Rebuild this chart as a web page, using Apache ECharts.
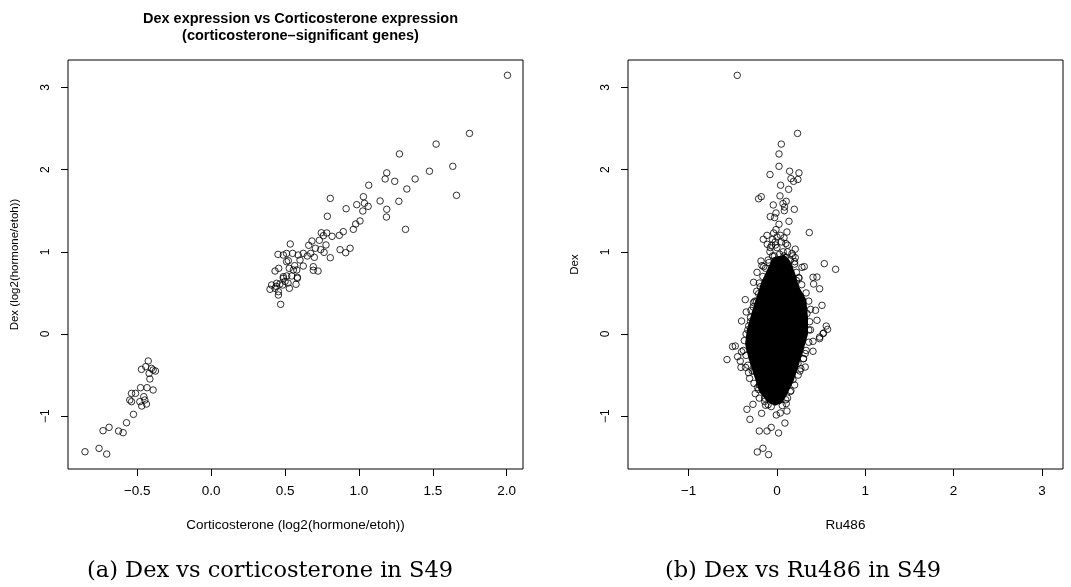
<!DOCTYPE html>
<html>
<head>
<meta charset="utf-8">
<script src="https://cdn.jsdelivr.net/npm/echarts@6/dist/echarts.min.js"></script>
<style>
html,body{margin:0;padding:0;background:#fff;}
#chart{width:1071px;height:587px;}
</style>
</head>
<body>
<div id="chart"></div>
<script>
// ---- Panel (a): Dex vs corticosterone (corticosterone-significant genes) ----
const corticoX = [
  2.005,1.748,1.522,1.274,1.635,1.477,1.188,1.177,1.242,1.380,1.066,1.324,1.660,0.806,1.030,
  1.143,1.270,1.037,0.985,1.062,0.913,1.026,1.188,0.786,1.186,1.007,0.978,0.962,1.315,0.894,
  0.867,0.818,0.782,0.745,0.759,0.682,0.732,0.777,0.535,0.660,0.705,0.741,0.872,0.940,0.910,
  0.764,0.673,0.623,0.551,0.488,0.452,0.589,0.650,0.698,0.806,0.522,0.601,0.623,0.565,0.691,
  0.528,0.457,0.432,0.556,0.691,0.723,0.583,0.488,0.545,0.510,0.510,0.398,0.409,0.432,0.455,
  0.470,0.455,0.443,0.465,0.484,0.488,0.529,0.511,0.574,0.583,0.579,0.440,0.500,0.520,
  -0.854,-0.759,-0.707,-0.732,-0.691,-0.627,-0.596,-0.573,-0.526,-0.551,-0.539,-0.539,-0.512,
  -0.478,-0.483,-0.470,-0.456,-0.449,-0.438,-0.434,-0.393,-0.472,-0.443,-0.426,-0.420,-0.415,
  -0.404,-0.393,-0.377
];
const dexA = [
  3.147,2.440,2.310,2.190,2.040,1.980,1.960,1.886,1.857,1.886,1.810,1.764,1.687,1.650,1.670,
  1.618,1.614,1.590,1.573,1.553,1.524,1.496,1.517,1.432,1.423,1.375,1.338,1.273,1.273,1.245,
  1.200,1.188,1.229,1.232,1.196,1.131,1.140,1.083,1.095,1.079,1.043,1.026,1.026,1.043,0.989,
  0.993,0.981,0.981,0.981,0.961,0.969,0.961,0.949,0.933,0.928,0.892,0.900,0.827,0.831,0.819,
  0.799,0.799,0.766,0.779,0.775,0.766,0.690,0.697,0.706,0.980,0.880,0.544,0.596,0.556,0.474,
  0.361,0.515,0.617,0.608,0.596,0.678,0.556,0.706,0.605,0.678,0.779,0.580,0.640,0.620,
  -1.432,-1.391,-1.460,-1.176,-1.135,-1.180,-1.200,-1.079,-0.977,-0.803,-0.823,-0.722,-0.722,
  -0.653,-0.823,-0.876,-0.762,-0.803,-0.852,-0.653,-0.681,-0.430,-0.397,-0.328,-0.479,-0.547,
  -0.418,-0.438,-0.450
];

// ---- Panel (b): Dex vs Ru486 (all genes) ----
// individually visible points around the dense cloud
const ru486X = [
  -0.450,0.233,0.049,0.023,0.023,-0.079,0.143,0.249,0.158,0.188,0.237,0.041,0.132,-0.208,-0.178,
  0.034,-0.042,0.068,0.105,0.086,0.083,0.196,-0.011,-0.076,-0.027,0.136,0.023,-0.011,0.113,0.366,
  -0.113,-0.038,-0.155,-0.110,-0.076,0.207,-0.016,0.536,0.664,0.283,0.309,-0.181,-0.170,-0.226,
  -0.265,0.207,0.408,0.453,0.245,0.415,0.483,-0.359,-0.265,-0.348,-0.294,0.510,0.437,-0.401,
  0.558,0.453,0.528,0.573,0.483,0.408,-0.503,-0.472,-0.189,-0.208,
  -0.566,-0.401,-0.446,-0.416,-0.408,-0.356,-0.322,-0.310,-0.246,-0.208,-0.340,-0.272,-0.306,
  -0.174,-0.129,-0.065,-0.008,0.037,0.113,0.105,0.090,-0.200,-0.113,-0.065,0.018,-0.223,-0.159,
  -0.095,0.158,0.181,0.320,0.238,0.408,0.320,0.483,0.521,
  -0.050,0.000,0.050,0.100,0.120,-0.080,0.000,0.080,-0.100,0.150,0.050,-0.030,0.180,-0.150,0.200,
  -0.230,-0.300,-0.330,0.340,0.360,0.300,-0.260,-0.200,0.220,0.260,-0.140,0.120,
  -0.130,-0.160,-0.200,-0.230,-0.250,-0.270,-0.300,-0.320,-0.350,-0.370,-0.380,-0.350,-0.330,
  -0.280,-0.260,-0.220,-0.200,-0.140,-0.100,
  0.060,0.100,0.150,0.200,0.240,0.270,0.300,0.330,0.360,0.380,0.370,0.380,0.360,0.330,0.280,
  0.250,0.220,0.200,0.170,
  0.000,0.030,0.070,-0.020,0.040,0.080,0.120,-0.060,0.100,-0.050,0.020,-0.090,0.140
];
const dexB = [
  3.146,2.440,2.310,2.190,2.040,1.940,1.980,1.960,1.890,1.857,1.880,1.810,1.760,1.645,1.670,
  1.680,1.570,1.587,1.614,1.545,1.500,1.517,1.472,1.428,1.416,1.371,1.335,1.270,1.241,1.234,
  1.200,1.229,1.152,1.091,1.051,1.032,1.083,0.856,0.787,0.811,0.820,0.888,0.832,0.750,
  0.629,0.929,0.690,0.693,0.686,0.608,0.550,0.418,0.382,0.268,0.288,0.349,0.288,0.158,
  0.097,0.167,0.012,0.057,-0.037,-0.089,-0.153,-0.146,0.575,0.490,
  -0.311,-0.215,-0.276,-0.329,-0.406,-0.406,-0.471,-0.540,-0.725,-0.677,-0.916,-0.855,-1.038,
  -0.965,-0.867,-0.883,-0.985,-0.961,-0.937,-0.847,-1.083,-1.180,-1.180,-1.136,-1.204,-1.435,-1.390,
  -1.467,-0.690,-0.555,-0.402,-0.360,-0.210,-0.238,-0.056,0.005,
  1.150,1.180,1.120,1.100,1.000,1.000,1.050,0.950,0.900,0.900,0.880,0.950,0.950,0.820,0.850,
  0.400,0.150,0.050,0.250,0.050,-0.300,-0.450,-0.620,0.650,-0.450,-0.780,-0.780,
  0.800,0.700,0.620,0.520,0.400,0.330,0.200,0.100,0.000,-0.080,-0.200,-0.260,-0.380,
  -0.450,-0.600,-0.650,-0.780,-0.820,-0.860,
  -0.870,-0.800,-0.700,-0.620,-0.500,-0.420,-0.300,-0.200,-0.100,0.050,0.150,0.300,0.400,0.500,0.600,
  0.680,0.750,0.880,0.980,
  0.900,0.970,1.000,1.120,1.200,1.170,1.080,1.080,0.930,0.950,0.860,0.870,0.800
];
// outline of the solid, fully overplotted core of the cloud
const coreX = [-0.040,-0.100,-0.170,-0.210,-0.270,-0.330,-0.350,-0.310,-0.250,-0.190,-0.100,-0.020,
               0.050,0.100,0.180,0.240,0.300,0.340,0.340,0.320,0.240,0.190,0.140,0.080];
const coreY = [0.920,0.780,0.620,0.480,0.280,0.050,-0.120,-0.300,-0.500,-0.700,-0.820,-0.860,
               -0.830,-0.740,-0.560,-0.360,-0.150,0.000,0.200,0.420,0.570,0.750,0.880,0.950];

const xTicksA = [-0.5, 0, 0.5, 1, 1.5, 2];
const xTicksB = [-1, 0, 1, 2, 3];
const yTicks = [-1, 0, 1, 2, 3];

const zip = (a, b) => a.map((v, i) => [v, b[i]]);
const minus = s => s.replace('-', '\u2212');

const FONT = '"Liberation Sans", Arial, Helvetica, sans-serif';

function xAxisDef(grid, min, max, ticks, fmt, name) {
  return {
    gridIndex: grid, type:'value', min:min, max:max,
    axisLine:{show:false, onZero:false},
    splitLine:{show:false},
    axisTick:{show:true, inside:false, length:7, customValues:ticks, lineStyle:{color:'#000', width:1}},
    axisLabel:{customValues:ticks, margin:15, formatter:fmt, showMinLabel:true, showMaxLabel:true,
               color:'#000', fontFamily:FONT, fontSize:13.5},
    name:name, nameLocation:'middle', nameGap:49,
    nameTextStyle:{color:'#000', fontFamily:FONT, fontSize:13.5}
  };
}
function yAxisDef(grid, name, gap) {
  return {
    gridIndex: grid, type:'value', min:-1.642, max:3.333,
    axisLine:{show:false, onZero:false},
    splitLine:{show:false},
    axisTick:{show:true, inside:false, length:7, customValues:yTicks, lineStyle:{color:'#000', width:1}},
    axisLabel:{customValues:yTicks, margin:16, rotate:90, formatter:v => minus(String(v)),
               color:'#000', fontFamily:FONT, fontSize:12},
    name:name, nameLocation:'middle', nameGap:gap, nameRotate:90,
    nameTextStyle:{color:'#000', fontFamily:FONT, fontSize:11.5}
  };
}

const circle = {color:'rgba(0,0,0,0)', borderColor:'#000', borderWidth:1};

const chart = echarts.init(document.getElementById('chart'), null, {renderer:'canvas'});
chart.setOption({
  backgroundColor:'#fff',
  animation:false,
  title:[
    {text:'Dex expression vs Corticosterone expression\n(corticosterone\u2013significant genes)',
     left:295.5, top:5, textAlign:'center',
     textStyle:{fontFamily:FONT, fontSize:14.5, fontWeight:'bold', color:'#000', lineHeight:17}},
    {text:'(a) Dex vs corticosterone in S49', left:265, top:555, textAlign:'center',
     textStyle:{fontFamily:'"DejaVu Serif", serif', fontSize:22.5, fontWeight:'normal', color:'#000'}},
    {text:'(b) Dex vs Ru486 in S49', left:798, top:555, textAlign:'center',
     textStyle:{fontFamily:'"DejaVu Serif", serif', fontSize:22.5, fontWeight:'normal', color:'#000'}}
  ],
  grid:[
    {left:68, top:60, width:455, height:409, show:true, borderColor:'#000', borderWidth:1, backgroundColor:'rgba(0,0,0,0)'},
    {left:628, top:60, width:435, height:409, show:true, borderColor:'#000', borderWidth:1, backgroundColor:'rgba(0,0,0,0)'}
  ],
  xAxis:[
    xAxisDef(0, -0.969, 2.11, xTicksA, v => minus(Number(v).toFixed(1)), 'Corticosterone (log2(hormone/etoh))'),
    xAxisDef(1, -1.687, 3.239, xTicksB, v => minus(String(v)), 'Ru486')
  ],
  yAxis:[
    yAxisDef(0, 'Dex (log2(hormone/etoh))', 47),
    yAxisDef(1, 'Dex', 47)
  ],
  series:[
    {type:'scatter', xAxisIndex:0, yAxisIndex:0, data:zip(corticoX, dexA),
     symbol:'circle', symbolSize:6.5, itemStyle:circle, silent:true},
    {type:'custom', xAxisIndex:1, yAxisIndex:1, data:[[0,0]], silent:true,
     renderItem:(params, api) => ({
       type:'polygon',
       shape:{points: coreX.map((x, i) => api.coord([x, coreY[i]]))},
       style:{fill:'#000', stroke:'#000', lineWidth:2}
     })},
    {type:'scatter', xAxisIndex:1, yAxisIndex:1, data:zip(ru486X, dexB),
     symbol:'circle', symbolSize:6.5, itemStyle:circle, silent:true}
  ]
});
</script>
</body>
</html>
